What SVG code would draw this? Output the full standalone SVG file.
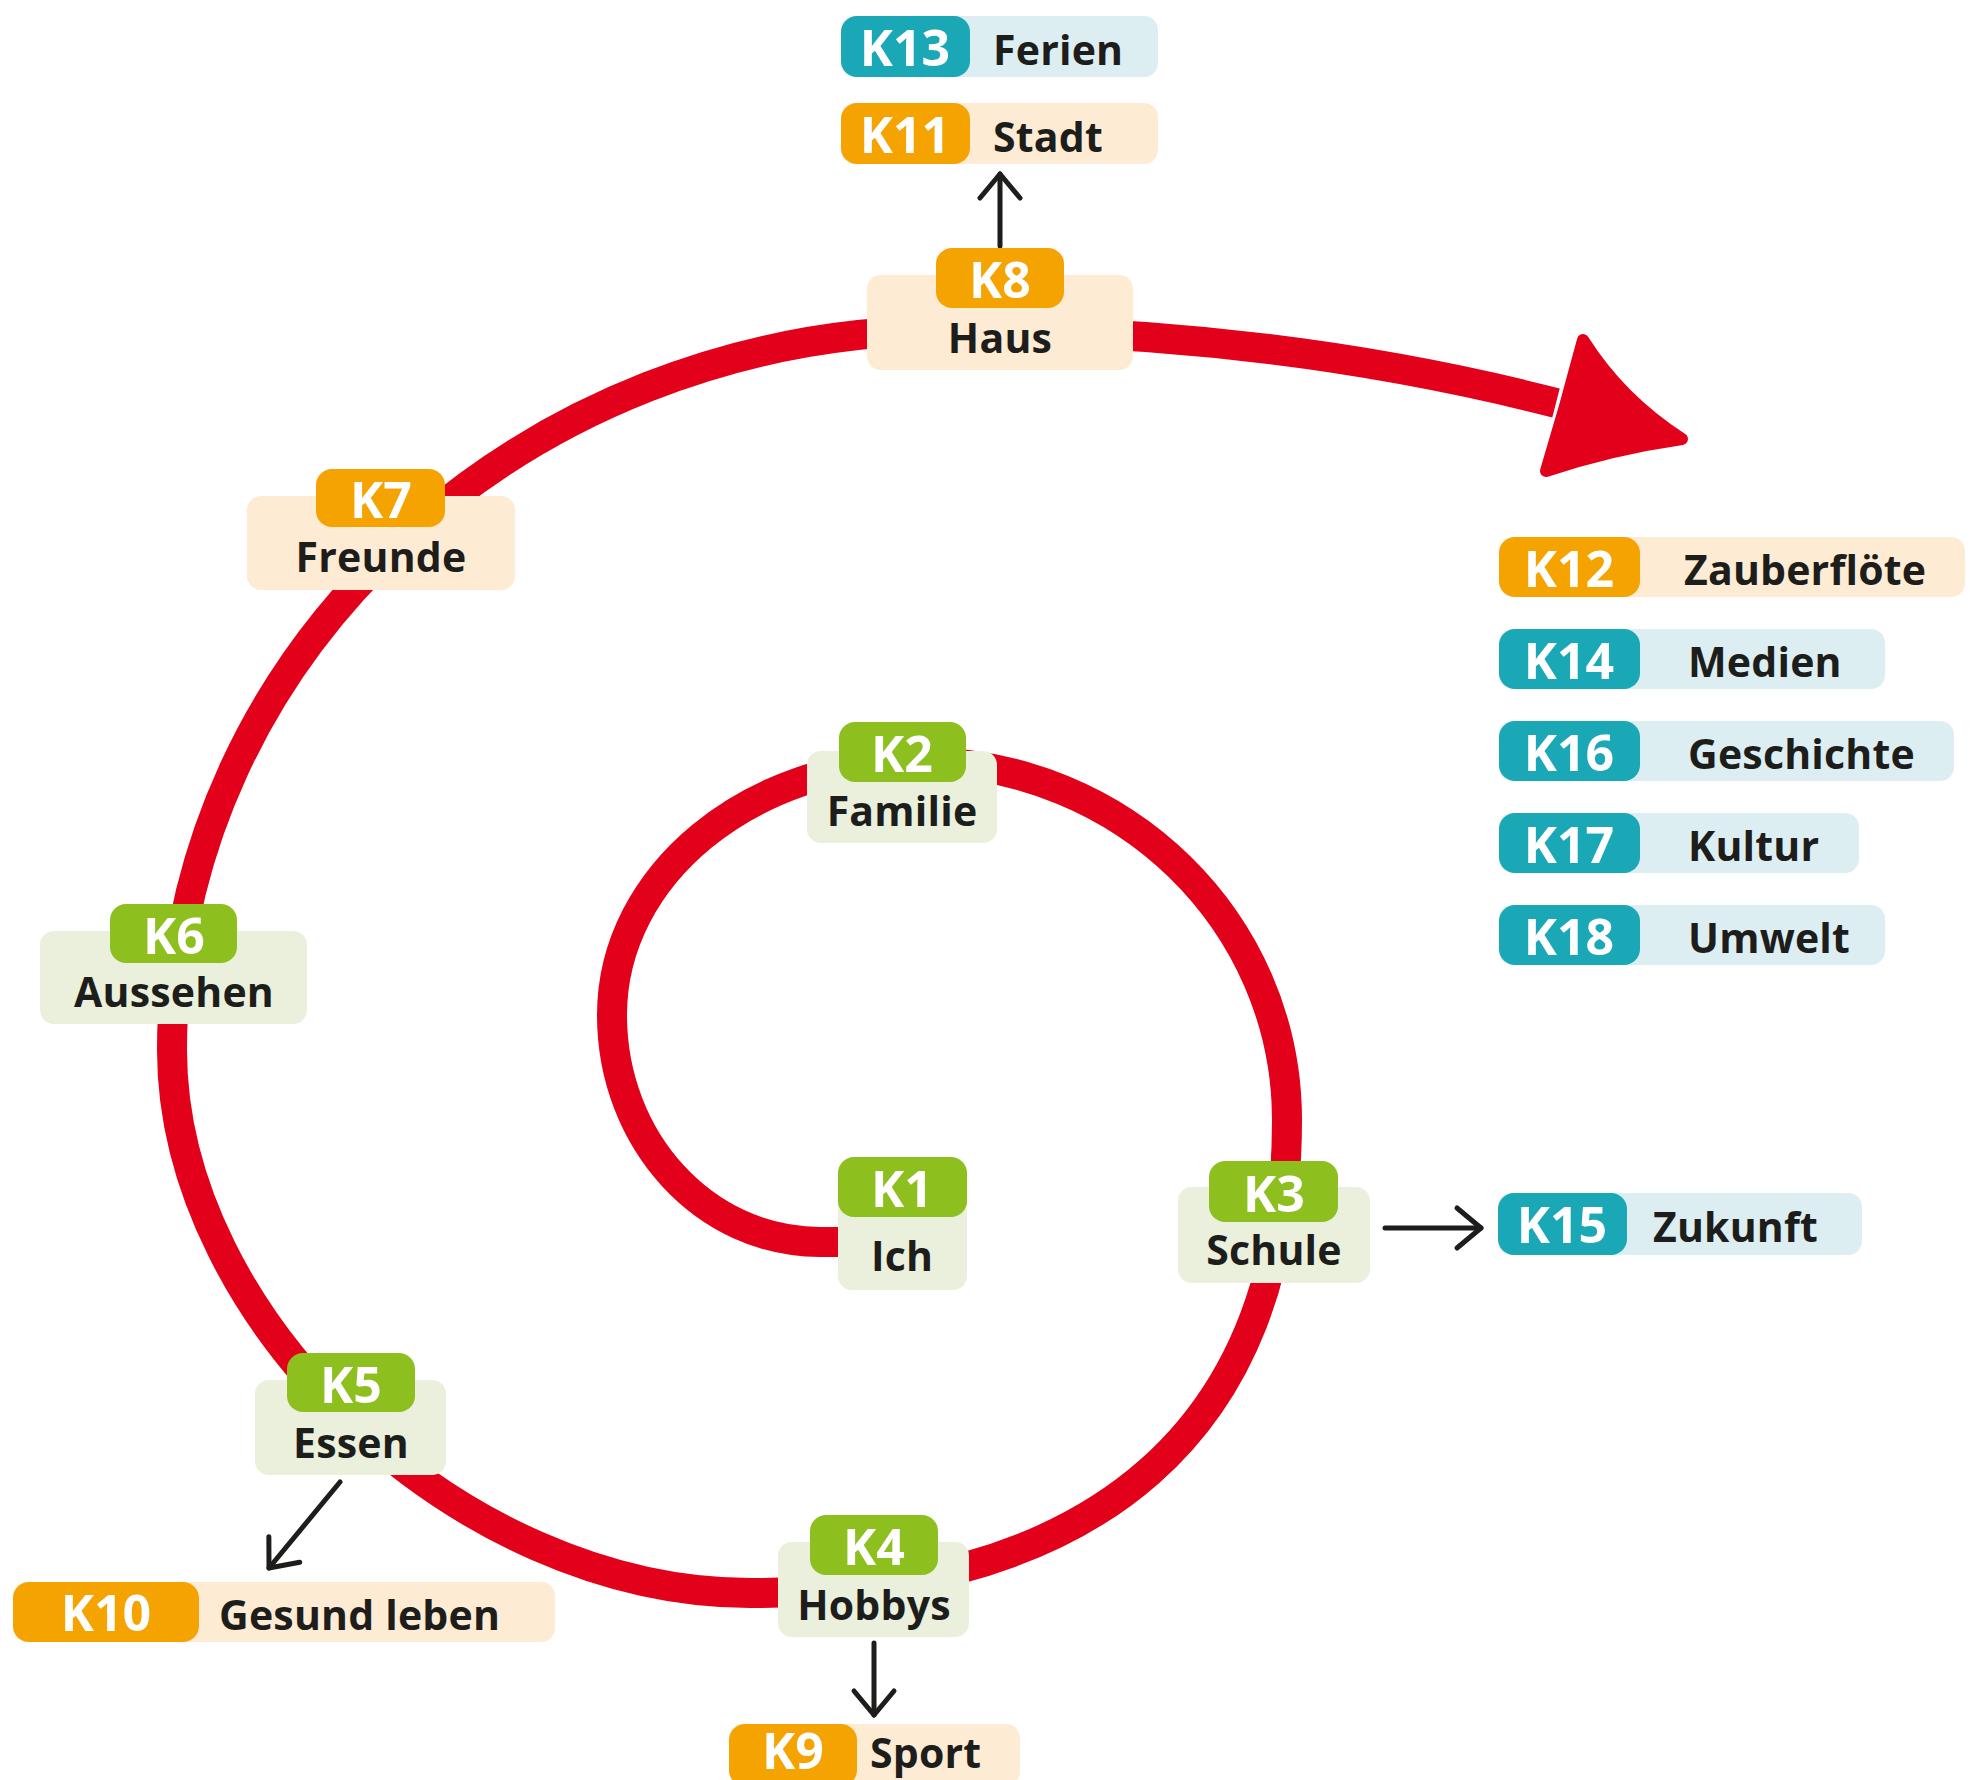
<svg xmlns="http://www.w3.org/2000/svg" width="1978" height="1780" viewBox="0 0 1978 1780">
<defs>
<style>
.kt{font-family:"Open Sans","Noto Sans",sans-serif;font-weight:700;font-size:50px;fill:#ffffff;text-anchor:middle}
.nt{font-family:"Open Sans","Noto Sans",sans-serif;font-weight:700;font-size:41px;fill:#1d1d1b;text-anchor:middle;letter-spacing:0.2px}
.lt{font-family:"Open Sans","Noto Sans",sans-serif;font-weight:700;font-size:41px;fill:#1d1d1b;text-anchor:start;letter-spacing:0.2px}
.g .pill{fill:#8dbf1f}.g .box{fill:#eaf0dc}
.o .pill{fill:#f5a300}.o .box{fill:#fdebd4}
.t .pill{fill:#1aa7b6}.t .box{fill:#dceef1}
.spiral{fill:none;stroke:#e2001a;stroke-width:30}
.head{fill:#e2001a;stroke:#e2001a;stroke-width:12;stroke-linejoin:round}
.arr{fill:none;stroke:#1d1d1b;stroke-width:5;stroke-linecap:round;marker-end:url(#ah)}
</style>
<marker id="ah" markerUnits="userSpaceOnUse" markerWidth="60" markerHeight="60" refX="0" refY="0" orient="auto" overflow="visible">
<path d="M-24,-20 L0,0 L-24,20" fill="none" stroke="#1d1d1b" stroke-width="5" stroke-linecap="round" stroke-linejoin="round"/>
</marker>
</defs>
<rect width="1978" height="1780" fill="#ffffff"/>
<g id="connectors">
<path class="spiral" d="M890,1242 L820,1242 C705,1242 612,1141 612,1015 C612,875 750,762 920,762 C1123,762 1287,922 1287,1120 C1287,1427 1099,1593 750,1593 C461,1593 172,1321 172,1050 C172,654 522,330 950,330 C1150,330 1353,351 1556,403"/>
<path class="head" d="M1583,340 Q1621,400 1682,439 Q1612,449 1546,471 Q1566,405 1583,340 Z"/>
<line class="arr" x1="1000" y1="246" x2="1000" y2="174"/>
<line class="arr" x1="1385" y1="1228" x2="1481" y2="1228"/>
<line class="arr" x1="874" y1="1643" x2="874" y2="1715"/>
<line class="arr" x1="340" y1="1482" x2="269" y2="1568"/>
</g>
<g id="k1" class="g"><rect class="box" x="838" y="1190" width="129" height="100" rx="14"/><rect class="pill" x="838" y="1157" width="129" height="60" rx="16"/><text class="kt" x="902" y="1207">K1</text><text class="nt" x="902" y="1271">Ich</text></g>
<g id="k2" class="g"><rect class="box" x="807" y="751" width="190" height="92" rx="14"/><rect class="pill" x="839" y="722" width="127" height="60" rx="16"/><text class="kt" x="902" y="772">K2</text><text class="nt" x="902" y="826">Familie</text></g>
<g id="k3" class="g"><rect class="box" x="1178" y="1187" width="192" height="96" rx="14"/><rect class="pill" x="1209" y="1161" width="129" height="61" rx="16"/><text class="kt" x="1274" y="1212">K3</text><text class="nt" x="1274" y="1265">Schule</text></g>
<g id="k4" class="g"><rect class="box" x="778" y="1542" width="191" height="95" rx="14"/><rect class="pill" x="810" y="1515" width="128" height="60" rx="16"/><text class="kt" x="874" y="1565">K4</text><text class="nt" x="874" y="1620">Hobbys</text></g>
<g id="k5" class="g"><rect class="box" x="255" y="1380" width="191" height="95" rx="14"/><rect class="pill" x="287" y="1353" width="128" height="59" rx="16"/><text class="kt" x="351" y="1403">K5</text><text class="nt" x="351" y="1458">Essen</text></g>
<g id="k6" class="g"><rect class="box" x="40" y="931" width="267" height="93" rx="14"/><rect class="pill" x="110" y="904" width="127" height="59" rx="16"/><text class="kt" x="174" y="954">K6</text><text class="nt" x="174" y="1007">Aussehen</text></g>
<g id="k7" class="o"><rect class="box" x="247" y="496" width="268" height="94" rx="14"/><rect class="pill" x="316" y="469" width="129" height="58" rx="16"/><text class="kt" x="381" y="518">K7</text><text class="nt" x="381" y="572">Freunde</text></g>
<g id="k8" class="o"><rect class="box" x="867" y="275" width="266" height="95" rx="14"/><rect class="pill" x="936" y="248" width="128" height="60" rx="16"/><text class="kt" x="1000" y="298">K8</text><text class="nt" x="1000" y="353">Haus</text></g>
<g id="k9" class="o"><rect class="box" x="729" y="1724" width="291" height="62" rx="14"/><rect class="pill" x="729" y="1724" width="128" height="62" rx="16"/><text class="kt" x="793" y="1769">K9</text><text class="lt" x="870" y="1768">Sport</text></g>
<g id="k10" class="o"><rect class="box" x="13" y="1582" width="542" height="60" rx="14"/><rect class="pill" x="13" y="1582" width="186" height="60" rx="16"/><text class="kt" x="106" y="1631">K10</text><text class="lt" x="219" y="1630">Gesund leben</text></g>
<g id="k11" class="o"><rect class="box" x="841" y="103" width="317" height="61" rx="14"/><rect class="pill" x="841" y="103" width="129" height="61" rx="16"/><text class="kt" x="905" y="153">K11</text><text class="lt" x="993" y="152">Stadt</text></g>
<g id="k13" class="t"><rect class="box" x="841" y="16" width="317" height="61" rx="14"/><rect class="pill" x="841" y="16" width="129" height="61" rx="16"/><text class="kt" x="905" y="66">K13</text><text class="lt" x="993" y="65">Ferien</text></g>
<g id="k12" class="o"><rect class="box" x="1499" y="537" width="466" height="60" rx="14"/><rect class="pill" x="1499" y="537" width="141" height="60" rx="16"/><text class="kt" x="1569" y="587">K12</text><text class="lt" x="1684" y="585">Zauberflöte</text></g>
<g id="k14" class="t"><rect class="box" x="1499" y="629" width="386" height="60" rx="14"/><rect class="pill" x="1499" y="629" width="141" height="60" rx="16"/><text class="kt" x="1569" y="679">K14</text><text class="lt" x="1688" y="677">Medien</text></g>
<g id="k16" class="t"><rect class="box" x="1499" y="721" width="455" height="60" rx="14"/><rect class="pill" x="1499" y="721" width="141" height="60" rx="16"/><text class="kt" x="1569" y="771">K16</text><text class="lt" x="1688" y="769">Geschichte</text></g>
<g id="k17" class="t"><rect class="box" x="1499" y="813" width="360" height="60" rx="14"/><rect class="pill" x="1499" y="813" width="141" height="60" rx="16"/><text class="kt" x="1569" y="863">K17</text><text class="lt" x="1688" y="861">Kultur</text></g>
<g id="k18" class="t"><rect class="box" x="1499" y="905" width="386" height="60" rx="14"/><rect class="pill" x="1499" y="905" width="141" height="60" rx="16"/><text class="kt" x="1569" y="955">K18</text><text class="lt" x="1688" y="953">Umwelt</text></g>
<g id="k15" class="t"><rect class="box" x="1498" y="1193" width="364" height="62" rx="14"/><rect class="pill" x="1498" y="1193" width="129" height="62" rx="16"/><text class="kt" x="1562" y="1243">K15</text><text class="lt" x="1653" y="1242">Zukunft</text></g>
</svg>
